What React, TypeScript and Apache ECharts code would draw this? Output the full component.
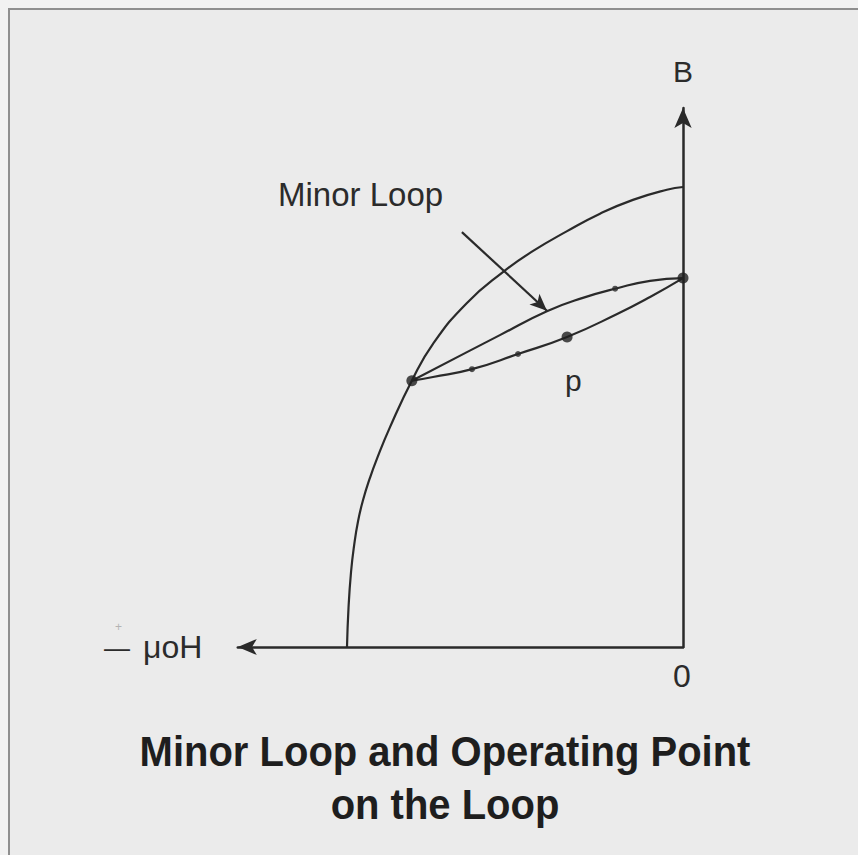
import React, { useEffect, useRef } from "react";
import * as echarts from "echarts";

// Normalised second-quadrant quantities: H / Hc (x) and B / Br (y).
// Demagnetisation curve from the coercive point up to remanence.
const demagH = [-1.0, -0.9955, -0.988, -0.979, -0.967, -0.952, -0.932, -0.911, -0.872, -0.807, -0.744, -0.643, -0.536, -0.446, -0.345, -0.247, -0.149, -0.048, 0];
const demagB = [0, 0.085, 0.163, 0.22, 0.274, 0.32, 0.367, 0.409, 0.478, 0.579, 0.659, 0.748, 0.815, 0.861, 0.904, 0.942, 0.972, 0.994, 1.0];

// Minor (recoil) loop: upper and lower branches between the knee point and the B axis.
const loopUpperH = [-0.807, -0.643, -0.545, -0.405, -0.298, -0.196, -0.098, 0];
const loopUpperB = [0.579, 0.641, 0.678, 0.730, 0.759, 0.780, 0.796, 0.802];
const loopLowerH = [-0.807, -0.744, -0.628, -0.491, -0.345, -0.196, -0.098, 0];
const loopLowerB = [0.579, 0.587, 0.604, 0.637, 0.674, 0.724, 0.761, 0.802];

// Marked points: loop ends and operating point p; small marks along the branches.
const mainPointsH = [-0.807, 0, -0.345];
const mainPointsB = [0.579, 0.802, 0.674];
const tickPointsH = [-0.202, -0.628, -0.491];
const tickPointsB = [0.779, 0.604, 0.637];

// Leader arrow from the "Minor Loop" label to the upper branch.
const pointerFrom = [-0.658, 0.902];
const pointerTo = [-0.405, 0.731];

const titleLines = ["Minor Loop and Operating Point", "on the Loop"];

const INK = "#2a2a2a";
const FONT = '"Liberation Sans", Arial, Helvetica, sans-serif';

const pairs = (xs: number[], ys: number[]) => xs.map((x, i) => [x, ys[i]]);

export default function App() {
  const ref = useRef<HTMLDivElement>(null);

  useEffect(() => {
    if (!ref.current) return;
    const chart = echarts.init(ref.current, undefined, { renderer: "svg" });

    const lineBase = {
      type: "line",
      showSymbol: false,
      symbol: "none",
      smooth: 0.5,
      silent: true,
      lineStyle: { color: INK, width: 2.2 },
      z: 3,
    };

    const option = {
      animation: false,
      backgroundColor: "transparent",
      grid: { left: 683 - 1.325 * 336, right: 175, top: 647 - 1.1717 * 460, bottom: 208, containLabel: false },
      xAxis: {
        type: "value",
        min: -1.325,
        max: 0,
        position: "bottom",
        axisLine: {
          show: true,
          onZero: false,
          symbol: ["arrow", "none"],
          symbolSize: [12, 19],
          lineStyle: { color: INK, width: 2.5 },
        },
        axisTick: { show: false },
        axisLabel: { show: false },
        splitLine: { show: false },
      },
      yAxis: {
        type: "value",
        min: 0,
        max: 1.1717,
        position: "right",
        axisLine: {
          show: true,
          onZero: false,
          symbol: ["none", "arrow"],
          symbolSize: [13, 20],
          lineStyle: { color: INK, width: 2.5 },
        },
        axisTick: { show: false },
        axisLabel: { show: false },
        splitLine: { show: false },
      },
      series: [
        {
          ...lineBase,
          name: "Demagnetisation curve",
          data: pairs(demagH, demagB),
          markLine: {
            silent: true,
            symbol: ["none", "arrow"],
            symbolSize: [11, 17],
            label: { show: false },
            lineStyle: { color: INK, width: 2.2, type: "solid" },
            data: [[{ coord: pointerFrom }, { coord: pointerTo }]],
          },
        },
        { ...lineBase, name: "Loop upper", data: pairs(loopUpperH, loopUpperB) },
        { ...lineBase, name: "Loop lower", data: pairs(loopLowerH, loopLowerB) },
        {
          type: "scatter",
          name: "Points",
          data: pairs(mainPointsH, mainPointsB),
          symbolSize: 11,
          itemStyle: { color: "#1f1f1f" },
          silent: true,
          z: 5,
        },
        {
          type: "scatter",
          name: "Marks",
          data: pairs(tickPointsH, tickPointsB),
          symbolSize: 6,
          itemStyle: { color: "#2a2a2a" },
          silent: true,
          z: 5,
        },
      ],
      graphic: [
        {
          type: "text",
          x: 278,
          y: 194,
          style: { text: "Minor Loop", fill: "#2b2b2b", font: `33px ${FONT}`, textVerticalAlign: "middle" },
        },
        {
          type: "text",
          x: 683,
          y: 71,
          style: { text: "B", fill: "#2b2b2b", font: `30px ${FONT}`, textAlign: "center", textVerticalAlign: "middle" },
        },
        {
          type: "text",
          x: 682,
          y: 676,
          style: { text: "0", fill: "#2b2b2b", font: `32px ${FONT}`, textAlign: "center", textVerticalAlign: "middle" },
        },
        {
          type: "text",
          x: 565,
          y: 380,
          style: { text: "p", fill: "#2b2b2b", font: `30px ${FONT}`, textVerticalAlign: "middle" },
        },
        {
          type: "text",
          x: 115,
          y: 627,
          style: { text: "+", fill: "#b3b3b3", font: `12px ${FONT}`, textVerticalAlign: "middle" },
        },
        {
          type: "text",
          x: 104,
          y: 648,
          style: { text: "—", fill: "#2b2b2b", font: `26px ${FONT}`, textVerticalAlign: "middle" },
        },
        {
          type: "text",
          x: 143,
          y: 647,
          style: { text: "μoH", fill: "#2b2b2b", font: `32px ${FONT}`, textVerticalAlign: "middle" },
        },
        {
          type: "text",
          x: 445,
          y: 752,
          scaleY: 1.07,
          style: { text: titleLines[0], fill: "#1e1e1e", font: `bold 40px ${FONT}`, textAlign: "center", textVerticalAlign: "middle" },
        },
        {
          type: "text",
          x: 445,
          y: 805,
          scaleY: 1.07,
          style: { text: titleLines[1], fill: "#1e1e1e", font: `bold 40px ${FONT}`, textAlign: "center", textVerticalAlign: "middle" },
        },
      ],
    };

    chart.setOption(option as any);
    return () => chart.dispose();
  }, []);

  return (
    <div style={{ position: "fixed", left: 0, top: 0, width: 858, height: 855, background: "#f2f2f2" }}>
      <div
        style={{
          position: "absolute",
          left: 8,
          top: 8,
          right: 0,
          bottom: 0,
          background: "#ebebeb",
          borderTop: "2px solid #8f8f8f",
          borderLeft: "2px solid #8f8f8f",
        }}
      />
      <div ref={ref} style={{ position: "absolute", left: 0, top: 0, width: 858, height: 855 }} />
    </div>
  );
}
